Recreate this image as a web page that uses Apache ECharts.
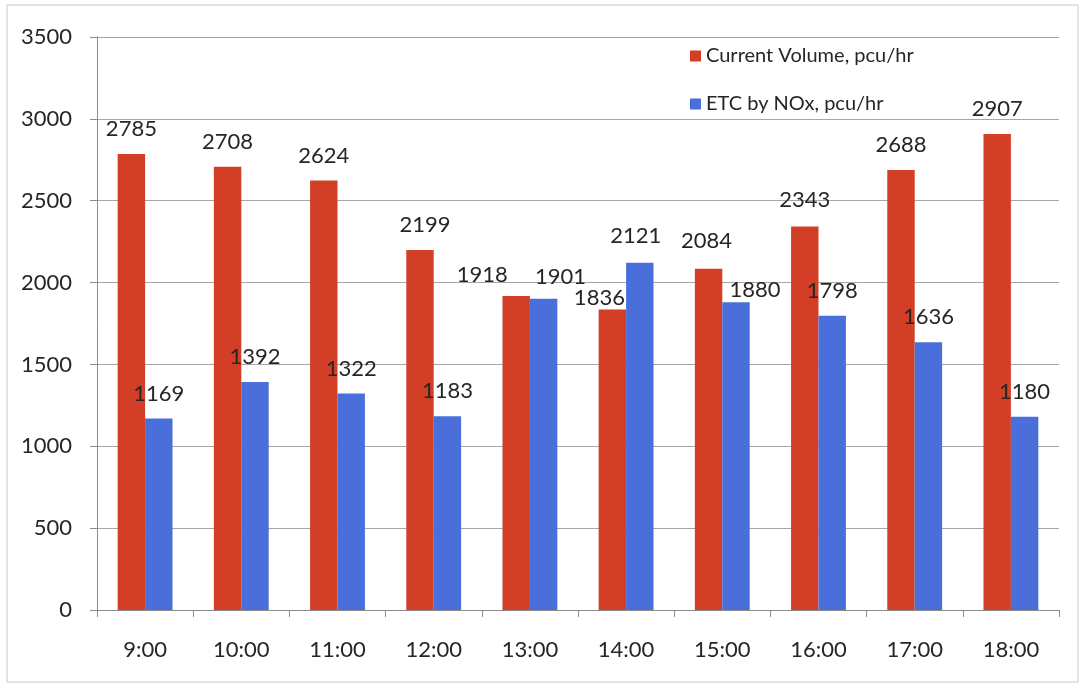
<!DOCTYPE html>
<html>
<head>
<meta charset="utf-8">
<script src="https://cdn.jsdelivr.net/npm/echarts@6/dist/echarts.min.js"></script>
<style>
html,body{margin:0;padding:0;background:#fff;}
#chart{width:1083px;height:686px;}
</style>
</head>
<body>
<div id="chart"></div>
<script>
// ---- data ----
const categories = ['9:00','10:00','11:00','12:00','13:00','14:00','15:00','16:00','17:00','18:00'];
const currentVolume = [2785, 2708, 2624, 2199, 1918, 1836, 2084, 2343, 2688, 2907];
const etcByNOx = [1169, 1392, 1322, 1183, 1901, 2121, 1880, 1798, 1636, 1180];
const seriesNames = ['Current Volume, pcu/hr', 'ETC by NOx, pcu/hr'];
const yTicks = [0, 500, 1000, 1500, 2000, 2500, 3000, 3500];

// label nudges (layout only), as in the original where some labels were moved by hand
const redNudge = {4: [-34, 4], 5: [-13, 13], 6: [-2, -3], 3: [5, 0], 7: [0, -2]};
const blueNudge = {4: [17, 3], 6: [19, 13], 5: [-4, -2]};

const FONT = 'Lato';
const RED = '#d33e27';
const BLUE = '#4a6fda';

function buildData(vals, nudges) {
  return vals.map((v, i) => {
    const n = nudges[i];
    return n ? {value: v, label: {offset: n}} : v;
  });
}

const labelStyle = {
  show: true,
  position: 'top',
  distance: 14,
  fontFamily: FONT,
  fontSize: 22,
  lineHeight: 22,
  color: '#262626'
};

const chart = echarts.init(document.getElementById('chart'), null, {renderer: 'canvas'});
chart.setOption({
  animation: false,
  backgroundColor: '#ffffff',
  graphic: [{
    type: 'rect',
    shape: {x: 7, y: 5, width: 1071, height: 677},
    style: {fill: 'none', stroke: '#c8c8c8', lineWidth: 1},
    silent: true
  }],
  grid: {left: 97, right: 24, top: 37, bottom: 76, containLabel: false},
  legend: {
    orient: 'vertical',
    left: 685,
    top: 41,
    itemWidth: 11,
    itemHeight: 11,
    itemGap: 28,
    icon: 'rect',
    textStyle: {fontFamily: FONT, fontSize: 20, color: '#262626'},
    data: seriesNames
  },
  xAxis: {
    type: 'category',
    data: categories,
    axisLine: {lineStyle: {color: '#8c8c8c', width: 1}},
    axisTick: {show: true, length: 7, lineStyle: {color: '#8c8c8c'}},
    axisLabel: {fontFamily: FONT, fontSize: 22, color: '#262626', margin: 29}
  },
  yAxis: {
    type: 'value',
    min: yTicks[0],
    max: yTicks[yTicks.length - 1],
    interval: yTicks[1] - yTicks[0],
    axisLine: {show: true, lineStyle: {color: '#8c8c8c', width: 1}},
    axisTick: {show: true, length: 7, lineStyle: {color: '#8c8c8c'}},
    axisLabel: {fontFamily: FONT, fontSize: 22, color: '#262626', margin: 25,
      formatter: v => String(v)},
    splitLine: {show: true, lineStyle: {color: '#a6a6a6', width: 1}}
  },
  series: [
    {
      name: seriesNames[0],
      type: 'bar',
      data: buildData(currentVolume, redNudge),
      itemStyle: {color: RED},
      barGap: '0%',
      barCategoryGap: '43%',
      label: labelStyle
    },
    {
      name: seriesNames[1],
      type: 'bar',
      data: buildData(etcByNOx, blueNudge),
      itemStyle: {color: BLUE},
      barGap: '0%',
      barCategoryGap: '43%',
      label: labelStyle
    }
  ]
});
</script>
</body>
</html>
